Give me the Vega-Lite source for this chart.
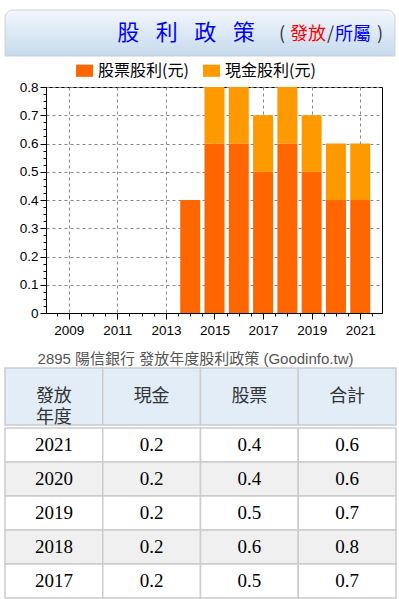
{
  "$schema": "https://vega.github.io/schema/vega-lite/v6.json",
  "padding": {"left": 4, "top": 9, "right": 4, "bottom": 2},
  "background": "white",
  "spacing": 0,
  "resolve": {"scale": {"color": "independent", "fill": "independent"}, "legend": {"color": "independent", "fill": "independent"}},
  "config": {
    "view": {"stroke": null},
    "font": "Liberation Sans, Noto Sans CJK TC",
    "axis": {"labelColor": "black", "domainColor": "black", "tickColor": "black"}
  },
  "datasets": {
    "div": [
      {"year": 2021, "現金": 0.2, "股票": 0.4, "合計": 0.6},
      {"year": 2020, "現金": 0.2, "股票": 0.4, "合計": 0.6},
      {"year": 2019, "現金": 0.2, "股票": 0.5, "合計": 0.7},
      {"year": 2018, "現金": 0.2, "股票": 0.6, "合計": 0.8},
      {"year": 2017, "現金": 0.2, "股票": 0.5, "合計": 0.7},
      {"year": 2016, "現金": 0.2, "股票": 0.6, "合計": 0.8},
      {"year": 2015, "現金": 0.2, "股票": 0.6, "合計": 0.8},
      {"year": 2014, "現金": 0, "股票": 0.4, "合計": 0.4}
    ],
    "cols": [
      {"key": "year", "label": "發放\n年度"},
      {"key": "現金", "label": "現金"},
      {"key": "股票", "label": "股票"},
      {"key": "合計", "label": "合計"}
    ]
  },
  "vconcat": [
    {
      "width": 390,
      "height": 46,
      "data": {"values": [{}]},
      "layer": [
        {
          "mark": {
            "type": "rect",
            "cornerRadiusTopLeft": 8,
            "cornerRadiusTopRight": 8,
            "stroke": "#d0d0d0",
            "strokeWidth": 1,
            "fill": {"gradient": "linear", "x1": 0, "y1": 0, "x2": 0, "y2": 1,
              "stops": [{"offset": 0, "color": "#F3F7FC"}, {"offset": 1, "color": "#C6DAEE"}]}
          },
          "encoding": {
            "x": {"datum": 0, "type": "quantitative", "scale": {"domain": [0, 1]}, "axis": null},
            "x2": {"datum": 1},
            "y": {"datum": 0, "type": "quantitative", "scale": {"domain": [0, 1]}, "axis": null},
            "y2": {"datum": 1}
          }
        },
        {
          "mark": {"type": "text", "text": "股\u2002\u2005利\u2002\u2005政\u2002\u2005策", "fontSize": 22, "color": "#0000FF", "font": "Noto Sans CJK TC", "align": "center", "baseline": "middle"},
          "encoding": {"x": {"datum": 0.464, "type": "quantitative"}, "y": {"datum": 0.49, "type": "quantitative"}}
        },
        {
          "mark": {"type": "text", "text": "(", "fontSize": 18, "color": "#333333", "font": "Noto Sans CJK TC", "align": "left", "baseline": "middle"},
          "encoding": {"x": {"datum": 0.7026, "type": "quantitative"}, "y": {"datum": 0.467, "type": "quantitative"}}
        },
        {
          "mark": {"type": "text", "text": "發放", "fontSize": 18, "color": "#FF0000", "font": "Noto Sans CJK TC", "align": "left", "baseline": "middle"},
          "encoding": {"x": {"datum": 0.7308, "type": "quantitative"}, "y": {"datum": 0.467, "type": "quantitative"}}
        },
        {
          "mark": {"type": "text", "text": "/", "fontSize": 18, "color": "#333333", "font": "Noto Sans CJK TC", "align": "left", "baseline": "middle"},
          "encoding": {"x": {"datum": 0.8256, "type": "quantitative"}, "y": {"datum": 0.467, "type": "quantitative"}}
        },
        {
          "mark": {"type": "text", "text": "所屬", "fontSize": 18, "color": "#0000FF", "font": "Noto Sans CJK TC", "align": "left", "baseline": "middle"},
          "encoding": {"x": {"datum": 0.8462, "type": "quantitative"}, "y": {"datum": 0.467, "type": "quantitative"}}
        },
        {
          "mark": {"type": "text", "text": ")", "fontSize": 18, "color": "#333333", "font": "Noto Sans CJK TC", "align": "left", "baseline": "middle"},
          "encoding": {"x": {"datum": 0.9538, "type": "quantitative"}, "y": {"datum": 0.467, "type": "quantitative"}}
        }
      ]
    },
    {
      "spacing": 0,
      "resolve": {"scale": {"color": "independent"}, "legend": {"color": "independent"}},
      "hconcat": [
        {
          "width": 1,
          "height": 1,
          "data": {"values": []},
          "mark": "point"
        },
        {
          "width": 336,
          "height": 226,
          "view": {"stroke": "black", "strokeWidth": 1},
          "data": {"name": "div"},
          "transform": [
            {"fold": ["股票", "現金"], "as": ["type", "value"]},
            {"filter": "datum.value > 0"}
          ],
          "resolve": {"axis": {"x": "independent", "y": "independent"}},
          "layer": [
            {
              "mark": {"type": "bar", "width": 20},
              "encoding": {
                "x": {
                  "field": "year", "type": "quantitative",
                  "scale": {"domain": [2008.27, 2021.69], "nice": false, "zero": false},
                  "axis": {
                    "orient": "bottom",
                    "values": [2009, 2011, 2013, 2015, 2017, 2019, 2021],
                    "format": "d", "grid": true, "gridDash": [3, 3], "gridColor": "#888888",
                    "tickSize": 6, "labelFontSize": 13.5, "labelPadding": 4,
                    "title": "2895 陽信銀行 發放年度股利政策 (Goodinfo.tw)",
                    "titleFontSize": 15, "titleFontWeight": "normal", "titleColor": "#555555",
                    "titlePadding": 15, "titleX": 149
                  }
                },
                "y": {
                  "field": "value", "type": "quantitative", "stack": true,
                  "scale": {"domain": [0, 0.8], "nice": false},
                  "axis": {
                    "orient": "left",
                    "values": [0, 0.1, 0.2, 0.3, 0.4, 0.5, 0.6, 0.7, 0.8],
                    "format": "~g", "grid": true, "gridDash": [3, 3], "gridColor": "#888888",
                    "tickSize": 6, "labelFontSize": 13.5, "title": null, "minExtent": 39, "maxExtent": 39
                  }
                },
                "color": {
                  "field": "type", "type": "nominal",
                  "scale": {"domain": ["股票", "現金"], "range": ["#FF6600", "#FF9900"]},
                  "legend": {
                    "orient": "none", "legendX": 26, "legendY": -29, "direction": "horizontal",
                    "title": null, "symbolType": "M-0.7,-0.5H0.7V0.5H-0.7Z", "symbolSize": 590,
                    "symbolStrokeWidth": 0, "labelFontSize": 16, "labelFont": "Noto Sans CJK TC",
                    "labelColor": "black", "labelOffset": 1, "columnPadding": 10,
                    "labelExpr": "datum.label + '股利(元)'"
                  }
                },
                "order": {"field": "type", "sort": "descending"}
              }
            },
            {
              "mark": {"type": "point", "opacity": 0},
              "encoding": {
                "x": {
                  "field": "year", "type": "quantitative",
                  "axis": {
                    "orient": "bottom",
                    "values": [2008.5, 2009, 2009.5, 2010, 2010.5, 2011, 2011.5, 2012, 2012.5, 2013, 2013.5, 2014, 2014.5, 2015, 2015.5, 2016, 2016.5, 2017, 2017.5, 2018, 2018.5, 2019, 2019.5, 2020, 2020.5, 2021, 2021.5],
                    "labels": false, "grid": false, "domain": false, "tickSize": 3, "title": null
                  }
                },
                "y": {
                  "field": "value", "type": "quantitative",
                  "axis": {
                    "orient": "left",
                    "values": [0.025, 0.05, 0.075, 0.125, 0.15, 0.175, 0.225, 0.25, 0.275, 0.325, 0.35, 0.375, 0.425, 0.45, 0.475, 0.525, 0.55, 0.575, 0.625, 0.65, 0.675, 0.725, 0.75, 0.775],
                    "labels": false, "grid": false, "domain": false, "tickSize": 3, "title": null, "minExtent": 0
                  }
                }
              }
            }
          ]
        }
      ]
    },
    {
      "spacing": 0,
      "vconcat": [
        {
          "width": 391,
          "height": 57,
          "data": {"name": "cols"},
          "encoding": {
            "x": {"field": "key", "type": "nominal", "scale": {"domain": ["year", "現金", "股票", "合計"], "paddingInner": 0, "paddingOuter": 0}, "axis": null}
          },
          "layer": [
            {"mark": {"type": "rect", "fill": "#E2EDF8", "stroke": "#CCCCCC", "strokeWidth": 1.5}},
            {
              "mark": {"type": "text", "fontSize": 18, "color": "#333333", "font": "Noto Sans CJK TC", "lineBreak": "\n", "lineHeight": 21},
              "encoding": {"text": {"field": "label", "type": "nominal"}}
            }
          ]
        },
        {
          "width": 391,
          "height": 170,
          "data": {"name": "div"},
          "transform": [
            {"filter": "datum.year >= 2017"},
            {"fold": ["year", "現金", "股票", "合計"], "as": ["key", "value"]}
          ],
          "encoding": {
            "x": {"field": "key", "type": "nominal", "scale": {"domain": ["year", "現金", "股票", "合計"], "paddingInner": 0, "paddingOuter": 0}, "axis": null},
            "y": {"field": "year", "type": "ordinal", "sort": "descending", "scale": {"paddingInner": 0, "paddingOuter": 0}, "axis": null}
          },
          "layer": [
            {
              "mark": {"type": "rect", "stroke": "#CCCCCC", "strokeWidth": 1.5},
              "encoding": {
                "fill": {"field": "year", "type": "ordinal", "scale": {"domain": [2021, 2020, 2019, 2018, 2017], "range": ["#FFFFFF", "#F0F0F0", "#FFFFFF", "#F0F0F0", "#FFFFFF"]}, "legend": null}
              }
            },
            {
              "mark": {"type": "text", "fontSize": 19, "font": "Liberation Serif", "color": "black"},
              "encoding": {"text": {"field": "value", "type": "nominal"}}
            }
          ]
        }
      ]
    }
  ]
}
